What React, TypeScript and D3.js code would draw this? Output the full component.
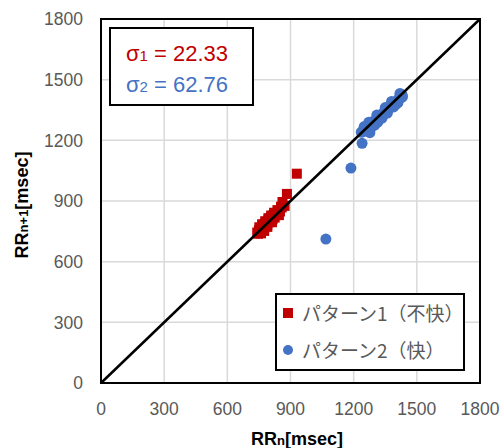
import React from 'react';
import { scaleLinear, line } from 'd3';

// RRn vs RRn+1 scatter (Poincare plot)
const ticks = [0, 300, 600, 900, 1200, 1500, 1800];

const redX = [742, 746, 750, 753, 757, 760, 764, 768, 771, 775, 778, 782, 786, 790, 794, 798, 802, 806, 810, 815, 820, 825, 830, 836, 842, 850, 858, 862, 872, 883, 930, 752, 765, 780, 795, 808, 822, 838, 760, 775, 790, 812, 845, 855];
const redY = [744, 738, 755, 747, 760, 751, 768, 759, 776, 767, 788, 779, 794, 785, 804, 795, 812, 800, 820, 810, 830, 818, 838, 832, 850, 848, 868, 895, 876, 935, 1035, 770, 785, 800, 815, 828, 842, 855, 740, 752, 772, 795, 830, 872];

const blueX = [1068, 1187, 1240, 1236, 1245, 1250, 1255, 1262, 1268, 1277, 1280, 1288, 1295, 1302, 1310, 1318, 1325, 1332, 1340, 1348, 1355, 1362, 1370, 1378, 1385, 1392, 1400, 1408, 1415, 1420, 1425, 1430, 1300, 1345, 1400, 1432, 1260, 1285, 1315, 1335, 1360, 1390, 1410, 1250, 1272, 1310, 1350, 1380, 1420];
const blueY = [712, 1063, 1185, 1240, 1250, 1255, 1262, 1268, 1262, 1238, 1280, 1285, 1295, 1290, 1305, 1310, 1322, 1318, 1335, 1340, 1350, 1348, 1362, 1370, 1375, 1385, 1390, 1398, 1405, 1420, 1410, 1425, 1275, 1330, 1378, 1415, 1245, 1265, 1290, 1310, 1335, 1365, 1385, 1268, 1290, 1325, 1362, 1392, 1432];

const sigmaLabels = ['22.33', '62.76'];
const legendNames = ['パターン1（不快）', 'パターン2（快）'];

const RED = '#C00000';
const BLUE = '#4472C4';

export default function App() {
  const W = 501, H = 448;
  const x = scaleLinear().domain([0, 1800]).range([101, 480]);
  const y = scaleLinear().domain([0, 1800]).range([383, 19]);
  const diag = line<number>().x(d => x(d)).y(d => y(d))([0, 1800]);

  return (
    <svg width={W} height={H} style={{ position: 'absolute', left: 0, top: 0, background: '#fff' }}
      fontFamily="'Liberation Sans', Arial, sans-serif">
      {/* grid */}
      {ticks.map(t => (
        <g key={'g' + t}>
          <line x1={x(t)} x2={x(t)} y1={y(0)} y2={y(1800)} stroke="#D9D9D9" strokeWidth={1.5} />
          <line x1={x(0)} x2={x(1800)} y1={y(t)} y2={y(t)} stroke="#D9D9D9" strokeWidth={1.5} />
        </g>
      ))}
      {/* tick labels */}
      {ticks.map(t => (
        <text key={'yl' + t} x={83} y={y(t)} dy="0.36em" textAnchor="end" fontSize={17.5} fill="#595959">{t}</text>
      ))}
      {ticks.map(t => (
        <text key={'xl' + t} x={x(t)} y={415} textAnchor="middle" fontSize={17.5} fill="#595959">{t}</text>
      ))}
      {/* points */}
      {redX.map((v, i) => (
        <rect key={'r' + i} x={x(v) - 5} y={y(redY[i]) - 5} width={10} height={10} fill={RED} />
      ))}
      {blueX.map((v, i) => (
        <circle key={'b' + i} cx={x(v)} cy={y(blueY[i])} r={5.5} fill={BLUE} />
      ))}
      {/* diagonal */}
      <path d={diag || ''} stroke="#000" strokeWidth={2.5} fill="none" />
      {/* frame */}
      <rect x={x(0)} y={y(1800)} width={x(1800) - x(0)} height={y(0) - y(1800)} fill="none" stroke="#000" strokeWidth={2} />

      {/* sigma box */}
      <rect x={110} y={28} width={143} height={77} fill="#fff" stroke="#000" strokeWidth={2} />
      {sigmaLabels.map((s, i) => (
        <text key={'s' + i} x={126} y={61 + i * 31} fontSize={22} fill={i === 0 ? RED : BLUE}>
          σ<tspan fontSize={15}>{i + 1}</tspan> = {s}
        </text>
      ))}

      {/* legend */}
      <rect x={276} y={294} width={188} height={76} fill="#fff" stroke="#000" strokeWidth={2} />
      <rect x={283} y={308} width={10} height={10} fill={RED} />
      <circle cx={288} cy={350} r={5} fill={BLUE} />
      {legendNames.map((n, i) => (
        <text key={'l' + i} x={302} y={321 + i * 37} fontSize={19} fill="#595959"
          fontFamily="'Noto Sans CJK JP', sans-serif">{n}</text>
      ))}

      {/* axis titles */}
      <text x={297} y={445} textAnchor="middle" fontSize={18} fontWeight="bold" fill="#000">
        RR<tspan fontSize={13}>n</tspan>[msec]
      </text>
      <text transform="translate(28,205) rotate(-90)" textAnchor="middle" fontSize={18} fontWeight="bold" fill="#000">
        RR<tspan fontSize={13}>n+1</tspan>[msec]
      </text>
    </svg>
  );
}
